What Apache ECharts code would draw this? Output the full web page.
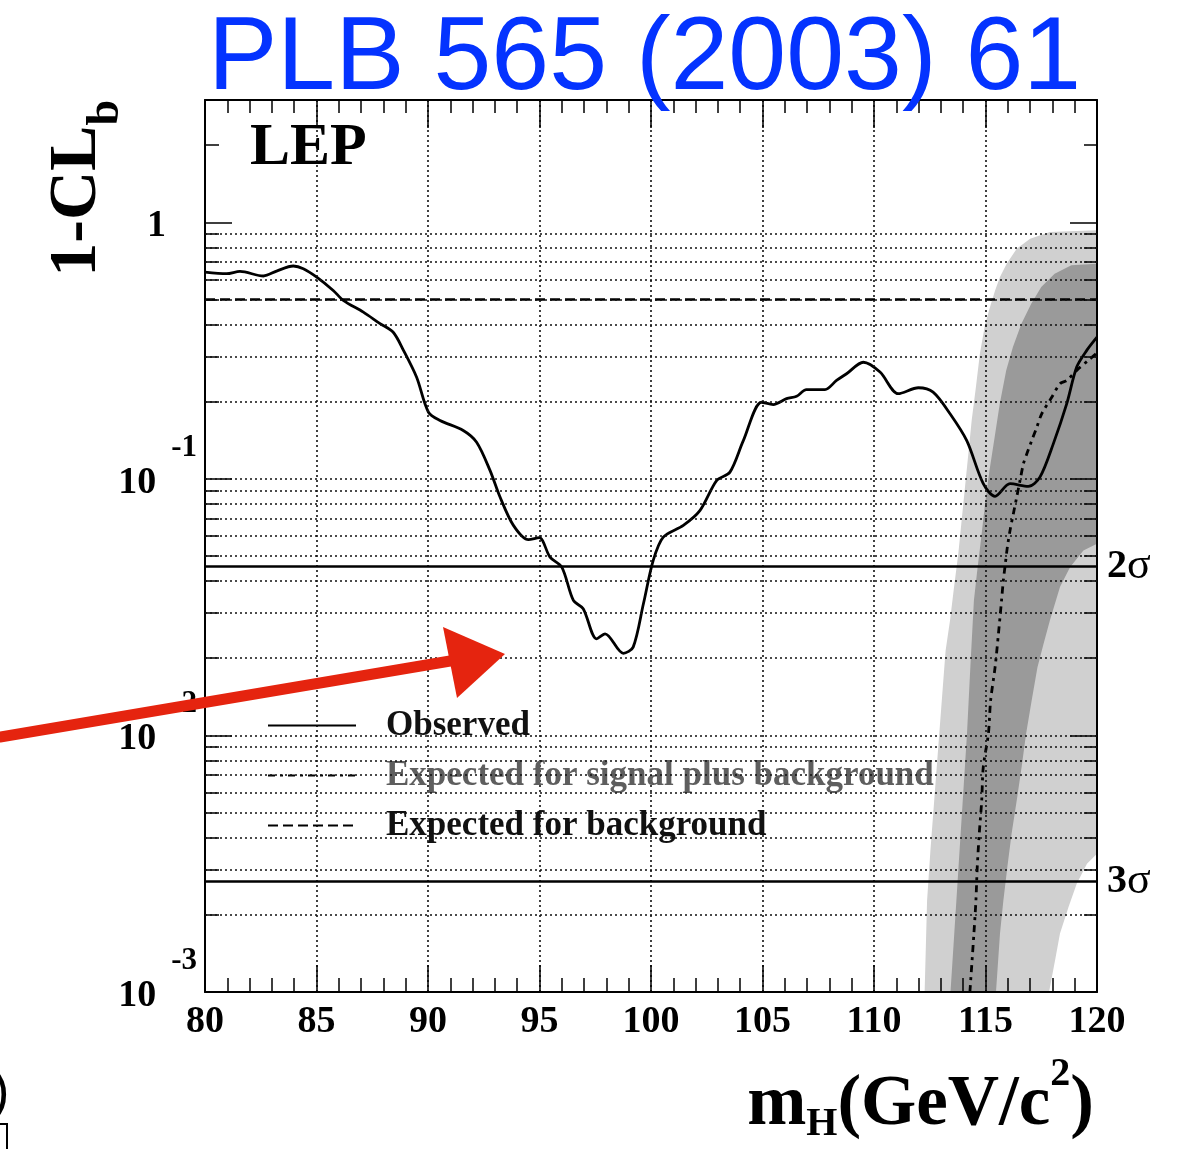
<!DOCTYPE html>
<html><head><meta charset="utf-8">
<script src="https://cdn.jsdelivr.net/npm/echarts@6/dist/echarts.min.js"></script>
<style>html,body{margin:0;padding:0;background:#fff}#chart{width:1200px;height:1149px}</style>
</head><body><div id="chart"></div>
<script>
const SERIF = '"Liberation Serif","Times New Roman",Times,serif';
const SANS = '"Liberation Sans",Arial,Helvetica,sans-serif';

// ---------- data ----------
// Observed 1-CLb versus m_H
const obsMass = [80.0, 80.97, 81.57, 82.62, 83.21, 83.96, 84.41, 85.01, 85.75, 86.2, 87.1, 87.85, 88.44, 88.9, 89.49, 90.02, 90.54, 91.58, 92.18, 92.78, 93.23, 93.83, 94.5, 94.99, 95.47, 96.0, 96.52, 96.96, 97.56, 97.94, 98.76, 99.2, 99.66, 100.1, 100.55, 101.45, 102.2, 102.95, 103.54, 104.14, 104.96, 105.48, 106.08, 106.53, 106.97, 107.8, 108.32, 108.77, 109.52, 110.27, 111.09, 111.99, 112.65, 113.41, 114.16, 114.9, 115.43, 116.1, 116.92, 117.44, 118.04, 118.64, 119.09, 119.54, 120.0];
const obsCLb  = [0.640, 0.631, 0.644, 0.618, 0.646, 0.676, 0.660, 0.612, 0.543, 0.497, 0.447, 0.403, 0.373, 0.317, 0.249, 0.182, 0.169, 0.1545, 0.139, 0.108, 0.085, 0.0659, 0.058, 0.059, 0.0496, 0.0453, 0.0336, 0.0312, 0.0238, 0.0249, 0.0209, 0.0221, 0.0326, 0.0481, 0.0593, 0.0659, 0.0754, 0.0987, 0.1063, 0.141, 0.199, 0.195, 0.2055, 0.210, 0.223, 0.223, 0.242, 0.257, 0.285, 0.261, 0.215, 0.2267, 0.218, 0.1795, 0.141, 0.0958, 0.0855, 0.0958, 0.0935, 0.1016, 0.137, 0.196, 0.273, 0.317, 0.357];

// Expected for signal plus background
const sbMass = [114.30, 114.48, 114.57, 114.63, 114.72, 114.83, 114.90, 115.13, 115.23, 115.43, 115.58, 115.72, 115.80, 115.89, 115.98, 116.10, 116.25, 116.40, 116.55, 116.70, 116.85, 117.07, 117.30, 117.52, 117.97, 118.34, 118.64, 119.09, 119.61, 120.0];
const sbCLb  = [0.001, 0.00169, 0.00227, 0.00307, 0.00414, 0.00558, 0.00753, 0.01016, 0.01369, 0.01846, 0.0249, 0.0336, 0.0402, 0.0467, 0.0542, 0.063, 0.0732, 0.085, 0.0987, 0.1146, 0.125, 0.141, 0.159, 0.1795, 0.208, 0.235, 0.242, 0.265, 0.29, 0.31];

// Expected for background
const bgMass = [80, 120];
const bgCLb  = [0.5, 0.5];

// ±2 sigma band of the s+b expectation: [m_H, 1-CLb]
const band2Upper = [[112.27, 0.001], [112.38, 0.00227], [112.53, 0.00356], [112.70, 0.00558], [112.87, 0.00874], [113.04, 0.01369], [113.21, 0.0214], [113.41, 0.0281], [113.59, 0.0379], [113.78, 0.0511], [113.93, 0.0689], [114.08, 0.0929], [114.23, 0.125], [114.38, 0.169], [114.57, 0.228], [114.75, 0.308], [114.98, 0.40], [115.20, 0.467], [115.43, 0.543], [115.65, 0.612], [115.95, 0.690], [116.40, 0.789], [117.00, 0.864], [117.89, 0.917], [120.0, 0.931]];
const band2Lower = [[117.85, 0.001], [118.12, 0.00133], [118.34, 0.00169], [118.72, 0.00214], [119.09, 0.00264], [119.55, 0.00316], [120.0, 0.00346]];
// ±1 sigma band
const band1Upper = [[113.43, 0.001], [113.60, 0.00169], [113.79, 0.00307], [113.98, 0.00558], [114.17, 0.01015], [114.32, 0.01846], [114.48, 0.0336], [114.63, 0.044], [114.81, 0.0593], [114.98, 0.080], [115.18, 0.108], [115.41, 0.1455], [115.64, 0.1964], [115.93, 0.265], [116.23, 0.327], [116.61, 0.403], [117.05, 0.482], [117.50, 0.56], [118.10, 0.631], [118.85, 0.68], [120.0, 0.69]];
const band1Lower = [[115.47, 0.001], [115.65, 0.00169], [115.80, 0.00227], [115.98, 0.00307], [116.17, 0.00414], [116.40, 0.00558], [116.62, 0.00753], [116.82, 0.01016], [117.07, 0.01369], [117.33, 0.01846], [117.59, 0.0225], [117.89, 0.0281], [118.34, 0.0379], [118.79, 0.0453], [119.39, 0.0526], [120.0, 0.0559]];

// significance levels
const sigmaLevels = [0.0455, 0.0027];
const sigmaLabels = ['2σ', '3σ'];

// axes / ticks
const xMin = 80, xMax = 120, xStep = 5;
const yMin = 0.001, yMax = 3;
const yMajorTicks = [0.001, 0.01, 0.1, 1];
const yDecades = [0.001, 0.01, 0.1];
const yMultipliers = [2, 3, 4, 5, 6, 7, 8, 9];
const yMinorTicks = yDecades.flatMap(d => yMultipliers.map(k => +(k * d).toPrecision(3))).concat([2]);
const yGridLines = yDecades.flatMap(d => yMultipliers.map(k => +(k * d).toPrecision(3))).concat([0.01, 0.1]);

const zip = (a, b) => a.map((v, i) => [v, b[i]]);
const band2Poly = band2Upper.concat(band2Lower.slice().reverse());
const band1Poly = band1Upper.concat(band1Lower.slice().reverse());

function bandRenderer(poly, color) {
  return function (params, api) {
    if (params.dataIndex !== 0) return null;
    return {
      type: 'polygon',
      shape: { points: poly.map(p => api.coord(p)) },
      style: { fill: color },
      silent: true
    };
  };
}

const chart = echarts.init(document.getElementById('chart'), null, { renderer: 'canvas' });

const axisLineStyle = { color: '#000', width: 2 };
const tickLineStyle = { color: '#000', width: 1.5 };
const dotted = { color: '#111', width: 1.6, type: [2, 3] };

function yAxisBase(position, ticks, len, showLine) {
  return {
    type: 'log', logBase: 10, position: position, min: yMin, max: yMax, gridIndex: 0, z: 4,
    axisLine: { show: showLine, lineStyle: axisLineStyle },
    axisTick: { show: true, inside: true, length: len, customValues: ticks, lineStyle: tickLineStyle },
    axisLabel: { show: false },
    splitLine: { show: false },
    minorTick: { show: false }, minorSplitLine: { show: false }
  };
}

const yLabelAxis = yAxisBase('left', yMajorTicks, 27, true);
yLabelAxis.axisLabel = {
  show: true, customValues: yMajorTicks, margin: 8,
  formatter: function (v) {
    const e = Math.round(Math.log10(v));
    return e === 0 ? '{o|1}' : '{b|10}{s|' + e + '}';
  },
  rich: {
    b: { fontFamily: SERIF, fontWeight: 'bold', fontSize: 38, lineHeight: 38, padding: [8, 0, 0, 0], verticalAlign: 'middle', color: '#000' },
    s: { fontFamily: SERIF, fontWeight: 'bold', fontSize: 31, lineHeight: 31, padding: [0, 0, 62, 15], verticalAlign: 'middle', color: '#000' },
    o: { fontFamily: SERIF, fontWeight: 'bold', fontSize: 38, lineHeight: 38, padding: [8, 31, 0, 0], verticalAlign: 'middle', color: '#000' }
  }
};

const option = {
  animation: false,
  backgroundColor: '#fff',
  title: {
    text: 'PLB 565 (2003) 61', left: 208, top: 8, padding: 0,
    textStyle: { fontFamily: SANS, fontSize: 104, fontWeight: 'normal', color: '#0433ff', lineHeight: 104 }
  },
  grid: { left: 205, right: 103, top: 100, bottom: 157, containLabel: false, outerBoundsMode: 'none' },
  legend: {
    show: true, orient: 'vertical', left: 267, top: 708, padding: 0,
    itemWidth: 88, itemHeight: 30, itemGap: 15, selectedMode: false,
    itemStyle: { opacity: 0 },
    textStyle: { fontFamily: SERIF, fontWeight: 'bold', fontSize: 35, lineHeight: 30, padding: [0, 0, 0, 25], color: '#111' },
    data: [
      { name: 'Observed' },
      { name: 'Expected for signal plus background', textStyle: { color: '#5e5e5e' } },
      { name: 'Expected for background' }
    ]
  },
  xAxis: [
    {
      type: 'value', position: 'bottom', min: xMin, max: xMax, interval: xStep, gridIndex: 0, z: 4,
      axisLine: { show: true, onZero: false, lineStyle: axisLineStyle },
      axisTick: { show: true, inside: true, length: 27, lineStyle: tickLineStyle },
      minorTick: { show: true, splitNumber: 5, length: 14, lineStyle: tickLineStyle },
      axisLabel: { show: true, margin: 11, showMinLabel: true, showMaxLabel: true, fontFamily: SERIF, fontWeight: 'bold', fontSize: 38, lineHeight: 38, color: '#000' },
      splitLine: { show: true, lineStyle: dotted }
    },
    {
      type: 'value', position: 'top', min: xMin, max: xMax, interval: xStep, gridIndex: 0, z: 4,
      axisLine: { show: true, onZero: false, lineStyle: axisLineStyle },
      axisTick: { show: true, inside: true, length: 28, lineStyle: tickLineStyle },
      minorTick: { show: true, splitNumber: 5, length: 13, lineStyle: tickLineStyle },
      axisLabel: { show: false },
      splitLine: { show: false }
    }
  ],
  yAxis: [
    yLabelAxis,
    yAxisBase('left', yMinorTicks, 14, false),
    yAxisBase('right', yMajorTicks, 27, true),
    yAxisBase('right', yMinorTicks, 13, false)
  ],
  series: [
    {
      type: 'custom', name: 'band2', coordinateSystem: 'cartesian2d', xAxisIndex: 0, yAxisIndex: 0,
      data: band2Poly, encode: { x: 0, y: 1 }, z: 1, silent: true, clip: true,
      renderItem: bandRenderer(band2Poly, '#d0d0d0')
    },
    {
      type: 'custom', name: 'band1', coordinateSystem: 'cartesian2d', xAxisIndex: 0, yAxisIndex: 0,
      data: band1Poly, encode: { x: 0, y: 1 }, z: 1, silent: true, clip: true,
      renderItem: bandRenderer(band1Poly, '#9a9a9a')
    },
    {
      type: 'line', name: 'grid', xAxisIndex: 0, yAxisIndex: 0, data: [], z: 2, silent: true,
      markLine: {
        silent: true, precision: 8, symbol: ['none', 'none'], label: { show: false },
        lineStyle: dotted,
        data: yGridLines.map(v => ({ yAxis: v }))
      }
    },
    {
      type: 'line', name: 'Expected for background', xAxisIndex: 0, yAxisIndex: 0,
      data: zip(bgMass, bgCLb), symbol: 'none', z: 3,
      itemStyle: { color: '#000' },
      lineStyle: { color: '#000', width: 2.5, type: [10, 5] }
    },
    {
      type: 'line', name: 'Expected for signal plus background', xAxisIndex: 0, yAxisIndex: 0,
      data: zip(sbMass, sbCLb), symbol: 'none', smooth: 0.3, z: 3,
      itemStyle: { color: '#000' },
      lineStyle: { color: '#000', width: 2.8, type: [7, 5, 3, 5] }
    },
    {
      type: 'line', name: 'Observed', xAxisIndex: 0, yAxisIndex: 0,
      data: zip(obsMass, obsCLb), symbol: 'none', smooth: 0.3, z: 3,
      itemStyle: { color: '#000' },
      lineStyle: { color: '#000', width: 2.8 },
      markLine: {
        silent: true, precision: 8, symbol: ['none', 'none'],
        lineStyle: { color: '#000', width: 2.5, type: 'solid' },
        label: {
          show: true, position: 'end', distance: 10,
          rich: {
            n: { fontFamily: SERIF, fontWeight: 'bold', fontSize: 40, color: '#000' },
            g: { fontFamily: SERIF, fontWeight: 'normal', fontSize: 44, color: '#000' }
          }
        },
        data: sigmaLevels.map((v, i) => ({
          yAxis: v,
          label: { formatter: '{n|' + sigmaLabels[i].charAt(0) + '}{g|' + sigmaLabels[i].slice(1) + '}' }
        }))
      }
    }
  ],
  graphic: [
    {
      type: 'text', x: 250, y: 148, z: 100,
      style: { text: 'LEP', fontFamily: SERIF, fontWeight: 'bold', fontSize: 60, fill: '#000', align: 'left', verticalAlign: 'middle' }
    },
    {
      type: 'text', x: 43, y: 100, rotation: Math.PI / 2, z: 100,
      style: {
        text: '{m|1-CL}{s|b}', align: 'right', verticalAlign: 'top',
        rich: {
          m: { fontFamily: SERIF, fontWeight: 'bold', fontSize: 68, lineHeight: 68, verticalAlign: 'top', fill: '#000' },
          s: { fontFamily: SERIF, fontWeight: 'bold', fontSize: 46, lineHeight: 46, padding: [40, 0, 0, 0], verticalAlign: 'top', fill: '#000' }
        }
      }
    },
    {
      type: 'text', x: 1094, y: 1030.5, z: 100,
      style: {
        text: '{m|m}{h|H}{m|(GeV/c}{p|2}{m|)}', align: 'right', verticalAlign: 'top',
        rich: {
          m: { fontFamily: SERIF, fontWeight: 'bold', fontSize: 71, lineHeight: 70, padding: [40, 0, 0, 0], verticalAlign: 'top', fill: '#000' },
          h: { fontFamily: SERIF, fontWeight: 'bold', fontSize: 40, lineHeight: 40, padding: [74.5, 0, 0, 0], verticalAlign: 'top', fill: '#000' },
          p: { fontFamily: SERIF, fontWeight: 'bold', fontSize: 40, lineHeight: 40, padding: [24.5, 0, 0, 0], verticalAlign: 'top', fill: '#000' }
        }
      }
    },
    {
      type: 'line', z: 100, silent: true,
      shape: { x1: 0, y1: 737, x2: 462, y2: 659 },
      style: { stroke: '#e5240f', lineWidth: 11, lineCap: 'round' }
    },
    {
      type: 'polygon', z: 100, silent: true,
      shape: { points: [[443, 627], [505, 654], [457, 698]] },
      style: { fill: '#e5240f' }
    },
    {
      type: 'text', x: -8, y: 1094, z: 100,
      style: { text: ')', fontFamily: SANS, fontSize: 52, fill: '#000', align: 'left', verticalAlign: 'middle' }
    },
    {
      type: 'polyline', z: 100, silent: true,
      shape: { points: [[0, 1124], [7, 1124], [7, 1149]] },
      style: { stroke: '#000', lineWidth: 2, fill: null }
    }
  ]
};

chart.setOption(option);
</script>
</body></html>
